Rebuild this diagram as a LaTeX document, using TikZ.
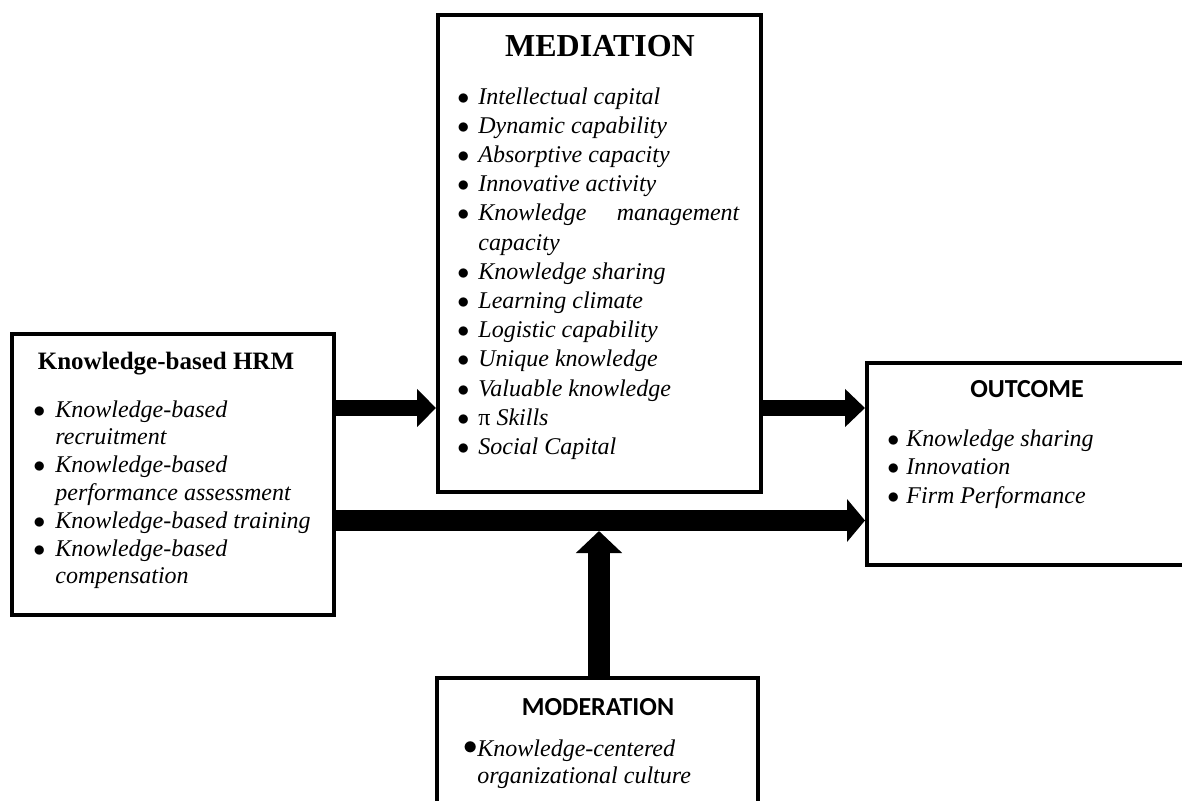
\documentclass[tikz,border=0pt]{standalone}
\usepackage{fontspec}
\setmainfont{Liberation Serif}
\newfontfamily\calibri{Carlito}
\usetikzlibrary{arrows.meta}
\newcommand{\bul}[2][11pt]{\makebox[#1][l]{$\bullet$}#2}
\newcommand{\cnt}[2][11pt]{\hspace*{#1}#2}

\begin{document}
\begin{tikzpicture}[x=0.5pt,y=-0.5pt,
    box/.style={draw,line width=2pt,rectangle,inner sep=0pt},
    list/.style={anchor=north west,inner sep=0pt,align=left},
    bigarrow/.style n args={3}{line width=#1,-{Triangle[length=#2,width=#3]}}]
    \useasboundingbox (0,0) rectangle (1182,801);
    \clip (0,0) rectangle (1182,801);

    \node[box,minimum width=161pt,minimum height=140.5pt] (hrm) at (173,474.5) {};
    \node[box,minimum width=161.5pt,minimum height=238.5pt] (med) at (599.5,253.5) {};
    \node[box,minimum width=165.5pt,minimum height=101pt] (out) at (1032.5,464) {};
    \node[box,minimum width=160.5pt,minimum height=75pt] (mod) at (597.5,753) {};

    \node[font=\fontsize{12.5}{14}\selectfont\bfseries,anchor=base] (hrmtitle) at (166,370) {Knowledge-based HRM};
    \node[list,font=\fontsize{12}{13.9}\selectfont\itshape] (hrmlist) at (33,400) {%
      \bul{Knowledge-based}\\
      \cnt{recruitment}\\
      \bul{Knowledge-based}\\
      \cnt{performance assessment}\\
      \bul{Knowledge-based training}\\
      \bul{Knowledge-based}\\
      \cnt{compensation}};

    \node[font=\fontsize{16}{19}\selectfont\bfseries,anchor=base] (medtitle) at (600,57) {MEDIATION};
    \node[list,font=\fontsize{12}{14.6}\selectfont\itshape] (medlist) at (457,87) {%
      \bul[10.5pt]{Intellectual capital}\\
      \bul[10.5pt]{Dynamic capability}\\
      \bul[10.5pt]{Absorptive capacity}\\
      \bul[10.5pt]{Innovative activity}\\
      \bul[10.5pt]{\makebox[130.5pt][s]{Knowledge management}}\\
      \cnt[10.5pt]{capacity}\\
      \bul[10.5pt]{Knowledge sharing}\\
      \bul[10.5pt]{Learning climate}\\
      \bul[10.5pt]{Logistic capability}\\
      \bul[10.5pt]{Unique knowledge}\\
      \bul[10.5pt]{Valuable knowledge}\\
      \bul[10.5pt]{{\upshape π} Skills}\\
      \bul[10.5pt]{Social Capital}};

    \node[font=\calibri\fontsize{13}{16}\selectfont\bfseries,anchor=base] (outtitle) at (1027,398) {OUTCOME};
    \node[list,font=\fontsize{12}{14.25}\selectfont\itshape] (outlist) at (887,429) {%
      \bul[9.5pt]{Knowledge sharing}\\
      \bul[9.5pt]{Innovation}\\
      \bul[9.5pt]{Firm Performance}};

    \node[font=\calibri\fontsize{13}{16}\selectfont\bfseries,anchor=base] (modtitle) at (598,715) {MODERATION};
    \node[list,font=\fontsize{12}{13.5}\selectfont\itshape] (modlist) at (463,739) {%
      \makebox[7pt][l]{\raisebox{1pt}{\fontsize{14}{14}\selectfont$\bullet$}}Knowledge-centered\\
      \cnt[7pt]{organizational culture}};

    \draw[bigarrow={8pt}{9.5pt}{18.5pt}] (hrm.east |- 0,408) -- (med.west |- 0,408);
    \draw[bigarrow={8pt}{10pt}{18.5pt}] (med.east |- 0,408) -- (out.west |- 0,408);
    \draw[bigarrow={10.5pt}{9pt}{21pt}] (hrm.east |- 0,520.5) -- (out.west |- 0,520.5);
    \coordinate (hit) at (599,531);
    \draw[bigarrow={11pt}{11pt}{22.5pt}] (mod.north -| hit) -- (hit);
  \end{tikzpicture}
\end{document}
